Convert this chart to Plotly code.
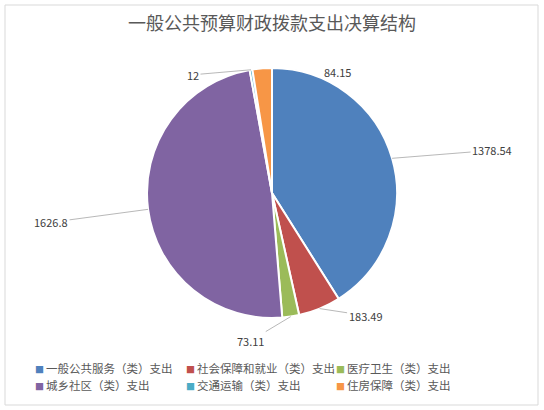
import math
import plotly.graph_objects as go

categories = ["一般公共服务（类）支出", "社会保障和就业（类）支出", "医疗卫生（类）支出",
              "城乡社区（类）支出", "交通运输（类）支出", "住房保障（类）支出"]
values = [1378.54, 183.49, 73.11, 1626.8, 12, 84.15]
value_labels = ["1378.54", "183.49", "73.11", "1626.8", "12", "84.15"]
colors = ["#4f81bd", "#c0504d", "#9bbb59", "#8064a2", "#4bacc6", "#f79646"]

W, H = 544, 410
CX, CY, R = 272, 193, 125  # pie centre / radius in pixels

# label offsets (pixels) from the slice edge, Excel-like placement
offsets = [(100, -8), (46, 7), (-40, 24), (-97, 13), (-58, 5), (75, 4)]
show_line = [True, True, True, True, True, False]

fig = go.Figure(go.Pie(
    labels=categories,
    values=values,
    sort=False,
    direction="clockwise",
    rotation=0,
    textinfo="none",
    hoverinfo="label+value",
    showlegend=False,
    marker=dict(colors=colors, line=dict(color="white", width=2)),
    domain=dict(x=[(CX - R) / W, (CX + R) / W], y=[1 - (CY + R) / H, 1 - (CY - R) / H]),
))

# data-driven label anchors: mid angle of each slice, on the pie edge
total = sum(values)
cum = 0
annotations = []
for v, txt, (ax, ay), line in zip(values, value_labels, offsets, show_line):
    mid = (cum + v / 2) / total * 2 * math.pi
    cum += v
    px = CX + R * math.sin(mid)
    py = CY - R * math.cos(mid)
    annotations.append(dict(
        x=px / W, y=1 - py / H, xref="paper", yref="paper",
        text=txt, showarrow=True, ax=ax, ay=ay,
        axref="pixel", ayref="pixel",
        arrowhead=0, arrowwidth=0.8,
        arrowcolor="#a6a6a6" if line else "rgba(255,255,255,0)",
        font=dict(size=11, color="#404040"),
    ))

# Excel-style legend: 3 columns x 2 rows, small square marker close to text
for i, (cat, col) in enumerate(zip(categories, colors)):
    lx = 33 + (i % 3) * 150.5
    ly = 368 + (i // 3) * 16.5
    annotations.append(dict(
        x=lx / W, y=1 - ly / H, xref="paper", yref="paper",
        xanchor="left", yanchor="middle", showarrow=False,
        text=f"<span style='font-size:9px;color:{col}'>■ </span>{cat}",
        font=dict(size=11.5, color="#595959"),
    ))

fig.update_layout(
    width=W, height=H,
    margin=dict(l=0, r=0, t=0, b=0),
    paper_bgcolor="white",
    font=dict(family="Noto Sans CJK SC, sans-serif", color="#595959"),
    title=dict(text="一般公共预算财政拨款支出决算结构", x=0.5, xanchor="center",
               y=1 - 24 / H, yanchor="middle",
               font=dict(size=18, color="#595959")),
    annotations=annotations,
    shapes=[dict(type="rect", xref="paper", yref="paper",
                 x0=5 / W, x1=538 / W, y0=1 - 405 / H, y1=1 - 5 / H,
                 line=dict(color="#d9d9d9", width=1))],
)

fig.write_html("out.html", config={"displayModeBar": False},
               post_script="document.body.style.margin='0';")
